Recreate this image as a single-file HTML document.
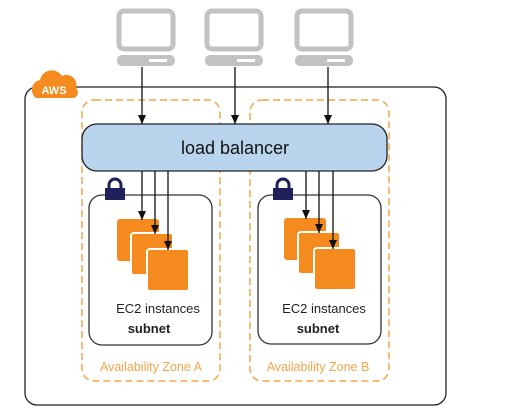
<!DOCTYPE html>
<html><head><style>
html,body{margin:0;padding:0;background:#fff;width:508px;height:419px;overflow:hidden}
svg{display:block}
text{font-family:"Liberation Sans",sans-serif}
</style></head><body>
<svg width="508" height="419" viewBox="0 0 508 419" xmlns="http://www.w3.org/2000/svg">
<defs>
<marker id="a" markerWidth="9" markerHeight="8" refX="9" refY="4" orient="auto" markerUnits="userSpaceOnUse">
<path d="M0,0 L9,4 L0,8 Z" fill="#111"/></marker>
<g id="mon">
<rect x="2" y="2" width="54" height="38" rx="5" fill="none" stroke="#c2c2c2" stroke-width="5"/>
<rect x="0" y="46" width="58" height="11" rx="5" fill="#c2c2c2"/>
<rect x="32" y="50" width="18" height="3" fill="#fff"/>
</g>
<g id="ec2">
<rect x="0" y="0" width="42" height="42" rx="3" fill="#f58b1f"/>
<rect x="14" y="14" width="42" height="42" rx="3" fill="#f58b1f" stroke="#fff" stroke-width="2"/>
<rect x="30" y="30" width="42" height="42" rx="3" fill="#f58b1f" stroke="#fff" stroke-width="2"/>
</g>
<g id="lock">
<path d="M4,10 V7 a6,6 0 0 1 12,0 V10" fill="none" stroke="#1f1f5c" stroke-width="3"/>
<rect x="0" y="10" width="20" height="12" fill="#1f1f5c"/>
</g>
</defs>
<use href="#mon" x="117" y="9"/>
<use href="#mon" x="205" y="9"/>
<use href="#mon" x="295" y="9"/>
<rect x="25" y="87" width="421" height="318" rx="12" fill="none" stroke="#222" stroke-width="1.3"/>
<path d="M36,98 a10,10 0 0 1 4,-18 a12,12 0 0 1 22,-4 a10,10 0 0 1 14,12 a6,6 0 0 1 -2,10 Z" fill="#f58b1f"/>
<text x="54" y="94" font-size="11" font-weight="bold" fill="#fff" text-anchor="middle">AWS</text>
<rect x="82" y="100" width="138" height="281" rx="12" fill="none" stroke="#f5a54a" stroke-width="1.5" stroke-dasharray="7,4"/>
<rect x="250" y="100" width="139" height="281" rx="12" fill="none" stroke="#f5a54a" stroke-width="1.5" stroke-dasharray="7,4"/>
<rect x="82" y="124" width="305" height="47" rx="15" fill="#b9d4ed" stroke="#222" stroke-width="1.3"/>
<text x="235" y="154" font-size="18" fill="#111" text-anchor="middle">load balancer</text>
<g stroke="#111" stroke-width="1.3">
<line x1="142" y1="67" x2="142" y2="124" marker-end="url(#a)"/>
<line x1="235" y1="67" x2="235" y2="124" marker-end="url(#a)"/>
<line x1="328" y1="67" x2="328" y2="124" marker-end="url(#a)"/>
</g>
<rect x="89" y="195" width="123" height="150" rx="13" fill="#fff" stroke="#333" stroke-width="1.3"/>
<rect x="258" y="195" width="123" height="149" rx="13" fill="#fff" stroke="#333" stroke-width="1.3"/>
<use href="#lock" x="105" y="178"/>
<use href="#lock" x="273" y="178"/>
<use href="#ec2" x="117" y="219"/>
<use href="#ec2" x="284" y="218"/>
<g stroke="#111" stroke-width="1.3">
<line x1="142" y1="171" x2="142" y2="220" marker-end="url(#a)"/>
<line x1="155" y1="171" x2="155" y2="234" marker-end="url(#a)"/>
<line x1="168" y1="171" x2="168" y2="250" marker-end="url(#a)"/>
<line x1="306" y1="171" x2="306" y2="219" marker-end="url(#a)"/>
<line x1="319" y1="171" x2="319" y2="233" marker-end="url(#a)"/>
<line x1="333" y1="171" x2="333" y2="249" marker-end="url(#a)"/>
</g>
<text x="158" y="313" font-size="13" fill="#222" text-anchor="middle">EC2 instances</text>
<text x="149" y="333" font-size="13" font-weight="bold" fill="#222" text-anchor="middle">subnet</text>
<text x="324" y="313" font-size="13" fill="#222" text-anchor="middle">EC2 instances</text>
<text x="318" y="333" font-size="13" font-weight="bold" fill="#222" text-anchor="middle">subnet</text>
<text x="151" y="371" font-size="12.5" fill="#f5a54a" text-anchor="middle">Availability Zone A</text>
<text x="318" y="371" font-size="12.5" fill="#f5a54a" text-anchor="middle">Availability Zone B</text>
</svg>
</body></html>
